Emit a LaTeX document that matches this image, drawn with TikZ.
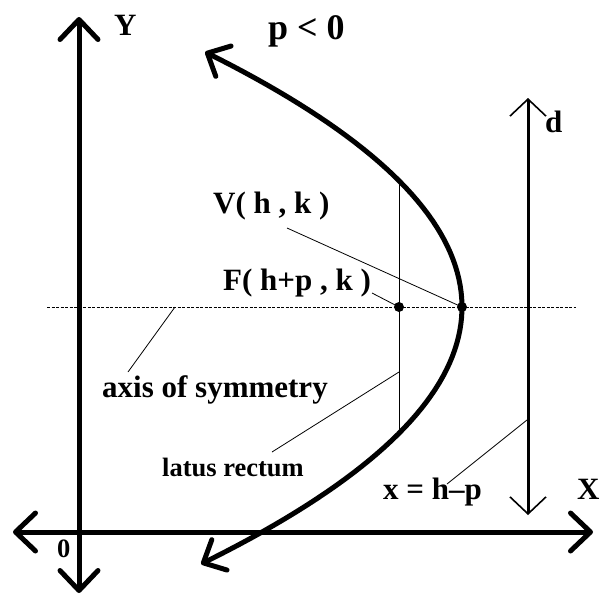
\documentclass[tikz,border=0pt]{standalone}
\usepackage{fontspec}
\setmainfont{Liberation Serif}
\usetikzlibrary{arrows.meta}
\begin{document}
\begin{tikzpicture}[x=1pt,y=-1pt,
  axisline/.style={line width=5pt,
    {Straight Barb[length=20pt,width=38pt,round]}-{Straight Barb[length=20pt,width=38pt,round]}},
  parab/.style={line width=5pt,
    {Straight Barb[length=18pt,width=34pt,round]}-{Straight Barb[length=18pt,width=34pt,round]}},
  dirline/.style={line width=3pt,
    {Straight Barb[length=17pt,width=36pt,line width=1.6pt]}-{Straight Barb[length=17pt,width=36pt,line width=1.6pt]}},
  thin/.style={line width=0.8pt},
  symaxis/.style={line width=0.8pt, dash pattern=on 3pt off 1.5pt},
  lab/.style={font=\fontsize{31}{31}\selectfont\bfseries, inner sep=0pt, anchor=base west},
  smalllab/.style={font=\fontsize{26.5}{26.5}\selectfont\bfseries, inner sep=0pt, anchor=base west},
  bigl/.style={font=\fontsize{36}{36}\selectfont\bfseries, inner sep=0pt, anchor=base west},
  dot/.style={circle, fill=black, inner sep=0pt, minimum size=10pt}
]
\useasboundingbox (0,0) rectangle (606,595);
% axes
\coordinate (ytop) at (79,17);
\coordinate (ybot) at (79,593);
\coordinate (xleft) at (13,532);
\coordinate (xright) at (593,532);
\draw[axisline] (ybot) -- (ytop);
\draw[axisline] (xleft) -- (xright);
% axis of symmetry
\coordinate (sl) at (47,307);
\coordinate (sr) at (576,307);
\draw[symaxis] (sl) -- (sr);
% directrix
\coordinate (dtop) at (528,98);
\coordinate (dbot) at (528,515);
\draw[dirline] (dbot) -- (dtop);
% latus rectum
\coordinate (lrtop) at (399,180);
\coordinate (lrbot) at (399,434);
\draw[thin] (lrtop) -- (lrbot);
% parabola
\draw[parab] plot[domain=52:564, samples=80, variable=\t] ({462-(0.06285*(\t-307))^2}, \t);
% points
\node[dot] (V) at (462,307) {};
\node[dot] (F) at (399,307) {};
% labels
\node[lab] (Y) at (114,35) {Y};
\node[bigl] (pl) at (268,39) {p < 0};
\node[lab] (d) at (545,132) {d};
\node[lab] (X) at (577,499) {X};
\node[smalllab] (O) at (57,557) {0};
\node[lab] (Vl) at (213,213) {V( h , k )};
\node[lab] (Fl) at (223,290) {F( h+p , k )};
\node[lab] (al) at (102,397) {axis of symmetry};
\node[smalllab] (ll) at (162,476) {latus rectum};
\node[lab] (xl) at (383,499) {x = h–p};
% leaders
\coordinate (vlead) at (287,228);
\coordinate (flead) at (372,293);
\coordinate (alead) at (128,372);
\coordinate (atarget) at (175,307);
\coordinate (llead) at (272,452);
\coordinate (ltarget) at (399,372);
\coordinate (xlead) at (447,484);
\coordinate (xtarget) at (527,420);
\draw[thin] (vlead) -- (V.center);
\draw[thin] (flead) -- (F.center);
\draw[thin] (alead) -- (atarget);
\draw[thin] (llead) -- (ltarget);
\draw[thin] (xlead) -- (xtarget);
\end{tikzpicture}
\end{document}
